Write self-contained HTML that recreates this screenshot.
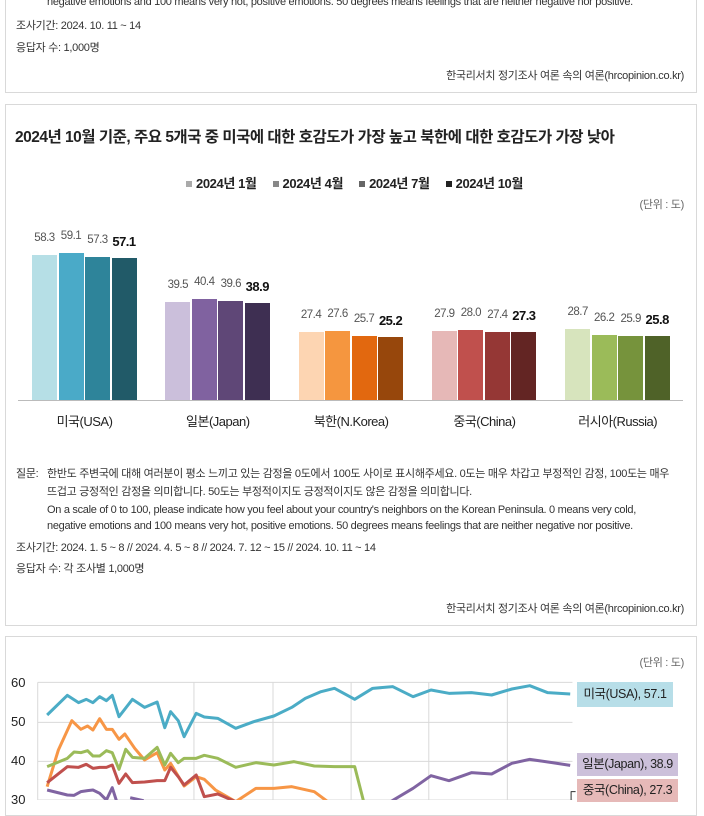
<!DOCTYPE html>
<html><head><meta charset="utf-8"><style>
body{margin:0;width:704px;height:800px;overflow:hidden;background:#fff;font-family:"Liberation Sans","Noto Sans CJK KR",sans-serif;color:#222;position:relative}
.box{position:absolute;left:5px;width:692px;border:1px solid #d9d9d9;box-sizing:border-box;background:#fff}
.t{position:absolute;white-space:nowrap}
.s{font-size:11px;color:#333;letter-spacing:-0.3px}
.bar{position:absolute;width:25px}
.v{position:absolute;font-size:11.5px;color:#555;width:30px;text-align:center;letter-spacing:-0.5px}
.vb{font-weight:bold;color:#111;font-size:13px}
.cat{position:absolute;top:411px;font-size:13px;width:133px;text-align:center;letter-spacing:-0.5px}
.lg{display:inline-block;width:6px;height:6px;margin-right:4px;vertical-align:1px}
</style></head><body>
<div class="box" style="top:-10px;height:103px"></div>
<div class="t s" style="left:47px;top:-4px">negative emotions and 100 means very hot, positive emotions. 50 degrees means feelings that are neither negative nor positive.</div>
<div class="t s" style="left:16px;top:17px">조사기간: 2024. 10. 11 ~ 14</div>
<div class="t s" style="left:16px;top:39px">응답자 수: 1,000명</div>
<div class="t s" style="right:20px;top:67px">한국리서치 정기조사 여론 속의 여론(hrcopinion.co.kr)</div>

<div class="box" style="top:104px;height:522px"></div>
<div class="t" style="left:15px;top:125px;font-size:15.5px;font-weight:bold;letter-spacing:-0.5px">2024년 10월 기준, 주요 5개국 중 미국에 대한 호감도가 가장 높고 북한에 대한 호감도가 가장 낮아</div>
<div class="t" style="left:186px;top:173px;font-size:13px;font-weight:bold;letter-spacing:-0.4px">
<span class="lg" style="background:#aaa"></span>2024년 1월&nbsp;&nbsp;&nbsp;&nbsp;&nbsp;<span class="lg" style="background:#888"></span>2024년 4월&nbsp;&nbsp;&nbsp;&nbsp;&nbsp;<span class="lg" style="background:#666"></span>2024년 7월&nbsp;&nbsp;&nbsp;&nbsp;&nbsp;<span class="lg" style="background:#222"></span>2024년 10월</div>
<div class="t s" style="right:20px;top:196px;color:#666">(단위 : 도)</div>
<div style="position:absolute;left:18px;top:400px;width:665px;height:1px;background:#bbb"></div>
<div id="bars"></div>
<div class="t s" style="left:16px;top:465px">질문:</div>
<div class="t s" style="left:47px;top:465px">한반도 주변국에 대해 여러분이 평소 느끼고 있는 감정을 0도에서 100도 사이로 표시해주세요. 0도는 매우 차갑고 부정적인 감정, 100도는 매우</div>
<div class="t s" style="left:47px;top:483px">뜨겁고 긍정적인 감정을 의미합니다. 50도는 부정적이지도 긍정적이지도 않은 감정을 의미합니다.</div>
<div class="t s" style="left:47px;top:504px">On a scale of 0 to 100, please indicate how you feel about your country's neighbors on the Korean Peninsula. 0 means very cold,</div>
<div class="t s" style="left:47px;top:520px">negative emotions and 100 means very hot, positive emotions. 50 degrees means feelings that are neither negative nor positive.</div>
<div class="t s" style="left:16px;top:539px">조사기간: 2024. 1. 5 ~ 8 // 2024. 4. 5 ~ 8 // 2024. 7. 12 ~ 15 // 2024. 10. 11 ~ 14</div>
<div class="t s" style="left:16px;top:560px">응답자 수: 각 조사별 1,000명</div>
<div class="t s" style="right:20px;top:600px">한국리서치 정기조사 여론 속의 여론(hrcopinion.co.kr)</div>

<div class="box" style="top:636px;height:180px"></div>
<div class="t s" style="right:20px;top:654px;color:#666">(단위 : 도)</div>
<div class="t" style="left:11px;top:675px;font-size:13px">60</div>
<div class="t" style="left:11px;top:714px;font-size:13px">50</div>
<div class="t" style="left:11px;top:753px;font-size:13px">40</div>
<div class="t" style="left:11px;top:792px;font-size:13px">30</div>
<svg style="position:absolute;left:0;top:630px" width="704" height="170" viewBox="0 0 1568 510" preserveAspectRatio="none">
<g stroke="#d9d9d9" fill="none">
<path d="M84 157H1275M84 277H1275M84 394H1275M84 510H1275" vector-effect="non-scaling-stroke"/>
<path d="M84 157V510M432 157V510M608 157V510M782 157V510M955 157V510M1130 157V510" vector-effect="non-scaling-stroke"/>
</g>
<g fill="none" stroke-width="3" stroke-linejoin="round">
<polyline vector-effect="non-scaling-stroke" stroke="#4bacc6" points="105,255 150,196 175,218 192,208 207,218 222,200 237,212 250,196 265,260 295,208 322,232 350,216 367,293 380,245 397,272 410,320 437,250 455,261 485,265 525,295 565,275 610,258 650,232 680,205 715,185 745,175 790,208 830,175 875,170 920,200 960,180 1000,190 1050,188 1095,195 1140,177 1180,167 1220,188 1270,192"/>
<polyline vector-effect="non-scaling-stroke" stroke="#f79646" points="105,470 130,360 160,272 180,298 195,288 207,300 222,266 237,298 250,298 265,328 278,312 300,355 322,390 350,368 367,420 380,400 410,468 437,440 455,448 480,480 525,515 570,475 610,475 650,470 700,485 730,515"/>
<polyline vector-effect="non-scaling-stroke" stroke="#9bbb59" points="105,410 150,385 165,366 180,368 195,362 207,378 222,378 237,362 250,368 265,418 280,358 295,382 322,385 350,352 367,405 380,370 397,398 410,385 437,385 455,376 485,385 525,412 570,398 610,405 655,395 700,408 745,410 790,410 810,515"/>
<polyline vector-effect="non-scaling-stroke" stroke="#c0504d" points="105,458 150,410 175,412 192,403 207,415 222,412 237,412 250,405 265,460 280,432 295,458 322,456 350,452 367,452 380,412 397,440 410,465 437,435 455,500 485,492 525,515"/>
<polyline vector-effect="non-scaling-stroke" stroke="#8064a2" points="105,480 150,495 165,496 180,485 195,482 207,480 222,490 237,510 250,473 260,515"/>
<polyline vector-effect="non-scaling-stroke" stroke="#8064a2" points="290,503 320,512"/>
<polyline vector-effect="non-scaling-stroke" stroke="#8064a2" points="870,515 920,475 960,437 1000,452 1050,428 1095,432 1140,400 1180,388 1230,398 1270,406"/>
<polyline vector-effect="non-scaling-stroke" stroke="#333" stroke-width="1" points="1272,510 1272,485 1282,485"/>
</g>
</svg>
<div class="t" style="left:577px;top:682px;width:96px;height:25px;background:#b7dee8;font-size:12.5px;line-height:25px;text-align:center;letter-spacing:-0.4px">미국(USA), 57.1</div>
<div class="t" style="left:577px;top:753px;width:101px;height:23px;background:#ccc0da;font-size:12.5px;line-height:23px;text-align:center;letter-spacing:-0.4px">일본(Japan), 38.9</div>
<div class="t" style="left:577px;top:779px;width:101px;height:23px;background:#e6b9b8;font-size:12.5px;line-height:23px;text-align:center;letter-spacing:-0.4px">중국(China), 27.3</div>
<script>
var g=[["미국(USA)",[58.3,59.1,57.3,57.1],["#b6dfe6","#4aaac8","#2e849a","#215a68"]],
["일본(Japan)",[39.5,40.4,39.6,38.9],["#cbbfdb","#8062a0","#5f4777","#3e2f52"]],
["북한(N.Korea)",[27.4,27.6,25.7,25.2],["#fdd5b2","#f5963f","#e2680f","#97470c"]],
["중국(China)",[27.9,28.0,27.4,27.3],["#e6b8b7","#c0504d","#953735","#632523"]],
["러시아(Russia)",[28.7,26.2,25.9,25.8],["#d7e4bd","#9bbb59","#76933c","#4f6228"]]];
var h="";
g.forEach(function(c,i){var x0=32+i*133.3;
c[1].forEach(function(v,j){var x=x0+j*26.5,ht=v*2.49;
h+='<div class="bar" style="left:'+x+'px;top:'+(400-ht)+'px;height:'+ht+'px;background:'+c[2][j]+'"></div>';
h+='<div class="v'+(j==3?' vb':'')+'" style="left:'+(x-2.5)+'px;top:'+(400-ht-23-(j==3?1:0))+'px">'+v.toFixed(1)+'</div>';});
h+='<div class="cat" style="left:'+(x0-14)+'px">'+c[0]+'</div>';});
document.getElementById("bars").innerHTML=h;
</script>
</body></html>
